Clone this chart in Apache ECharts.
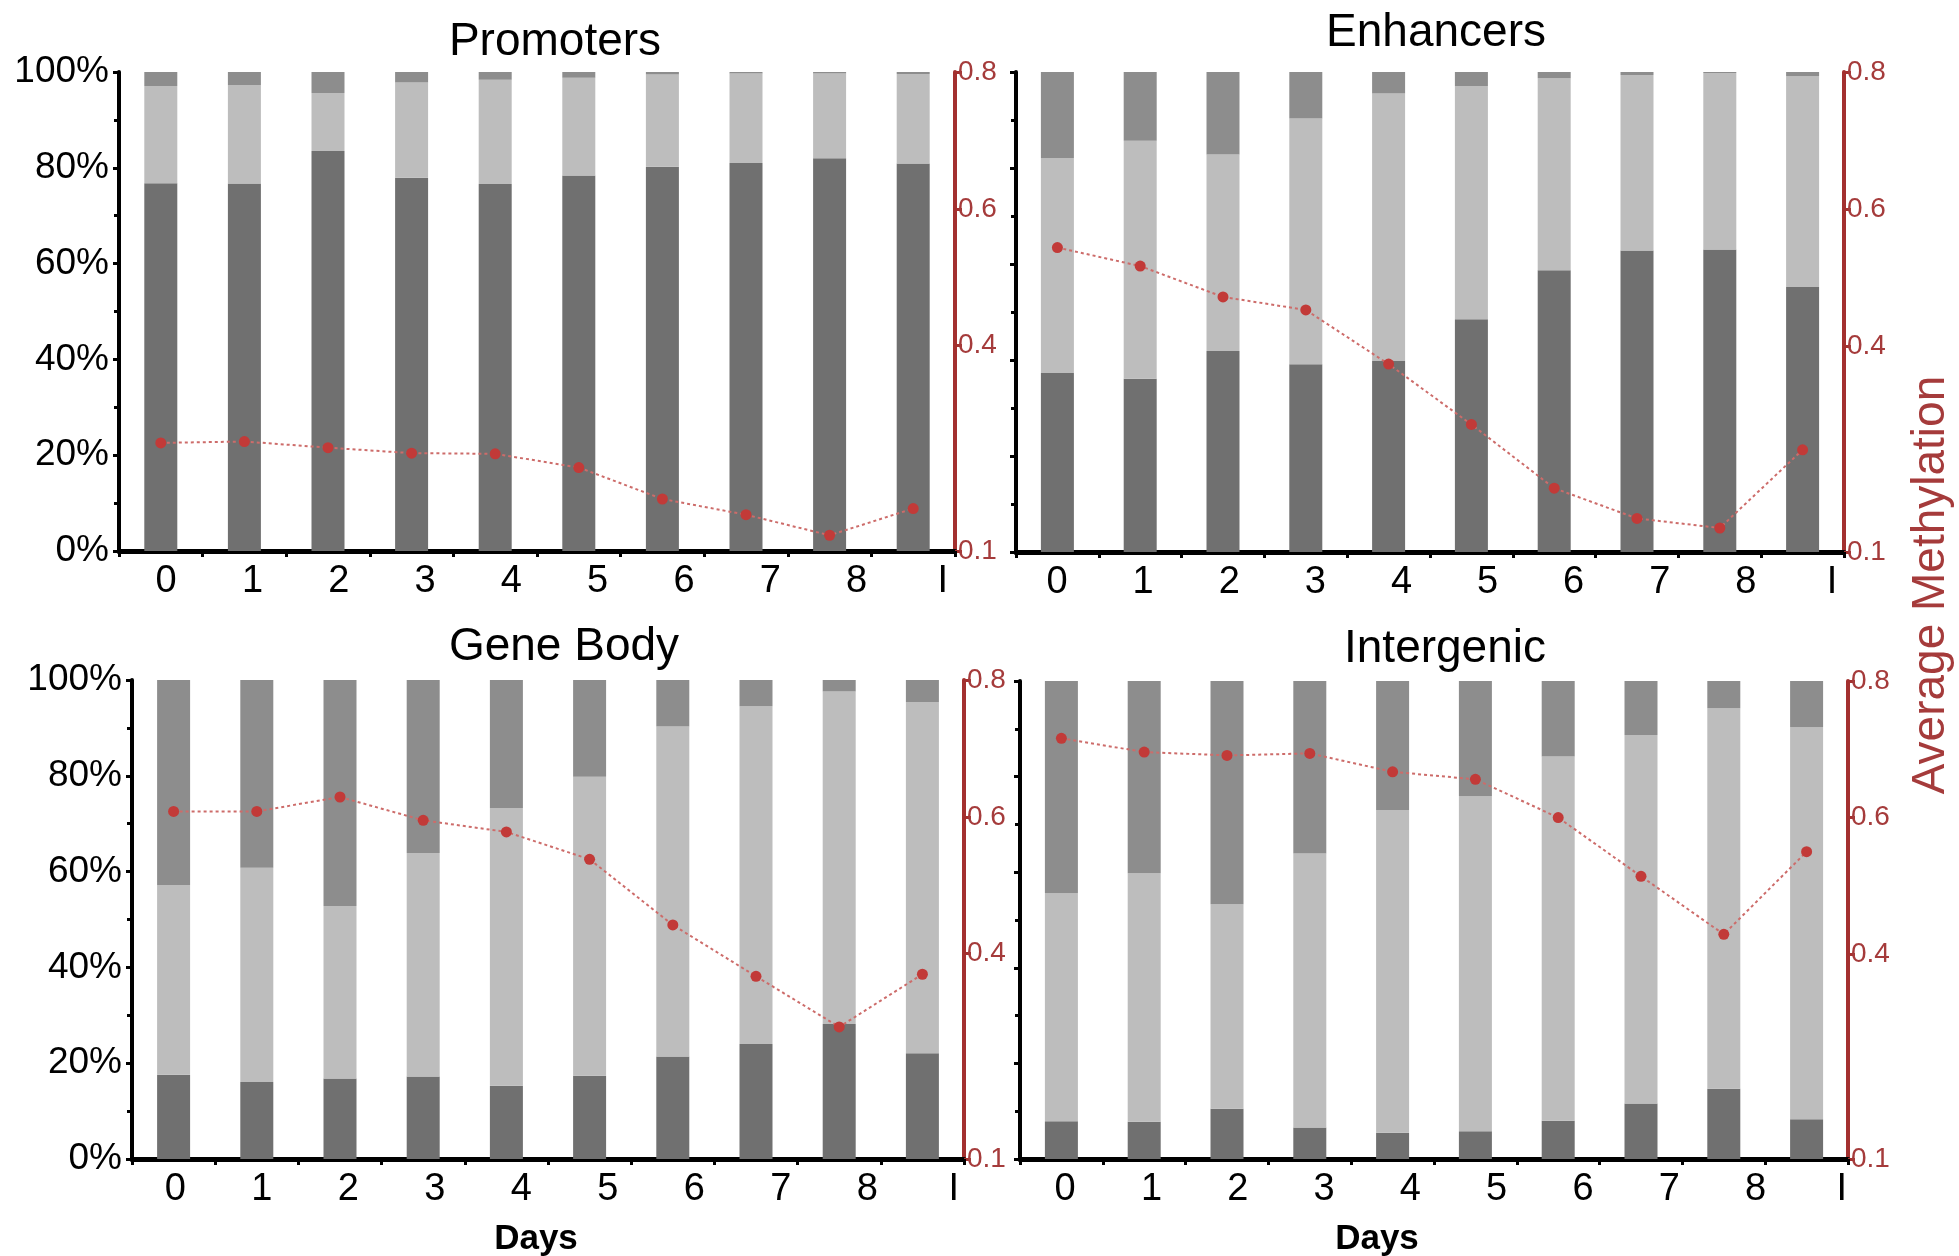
<!DOCTYPE html>
<html>
<head>
<meta charset="utf-8">
<script src="https://cdn.jsdelivr.net/npm/echarts@6/dist/echarts.min.js"></script>
<style>
  html, body { margin: 0; padding: 0; background: #fff; }
  #chart { width: 1959px; height: 1256px; }
</style>
</head>
<body>
<div id="chart"></div>
<script>
// Days of differentiation; "I" is the final time point
const days = ['0', '1', '2', '3', '4', '5', '6', '7', '8', 'I'];

// Axis tick values
const pctTicks = [0, 20, 40, 60, 80, 100];
const methTicks = [0.1, 0.4, 0.6, 0.8];

// Share of CpG sites (%) in low / intermediate / high methylation classes
const promotersLow  = [76.8, 76.7, 83.5, 77.9, 76.6, 78.4, 80.2, 81.0, 82.0, 80.9];
const promotersMid  = [20.3, 20.6, 12.1, 19.9, 21.8, 20.4, 19.3, 18.7, 17.7, 18.7];
const promotersHigh = [2.9, 2.7, 4.4, 2.2, 1.6, 1.2, 0.5, 0.3, 0.3, 0.4];
const promotersMeth = [0.258, 0.260, 0.251, 0.243, 0.242, 0.222, 0.176, 0.153, 0.123, 0.162];

const enhancersLow  = [37.3, 36.1, 41.9, 39.1, 39.8, 48.5, 58.7, 62.8, 63.0, 55.2];
const enhancersMid  = [44.8, 49.6, 40.9, 51.2, 55.7, 48.6, 40.0, 36.6, 36.8, 43.9];
const enhancersHigh = [17.9, 14.3, 17.2, 9.7, 4.5, 2.9, 1.3, 0.6, 0.2, 0.9];
const enhancersMeth = [0.544, 0.517, 0.472, 0.453, 0.374, 0.286, 0.193, 0.149, 0.135, 0.249];

const geneBodyLow  = [17.6, 16.1, 16.8, 17.2, 15.3, 17.4, 21.4, 24.0, 28.2, 22.1];
const geneBodyMid  = [39.6, 44.7, 36.0, 46.7, 58.0, 62.4, 68.9, 70.5, 69.4, 73.3];
const geneBodyHigh = [42.8, 39.2, 47.2, 36.1, 26.7, 20.2, 9.7, 5.5, 2.4, 4.6];
const geneBodyMeth = [0.608, 0.608, 0.629, 0.595, 0.578, 0.538, 0.442, 0.367, 0.293, 0.370];

const intergenicLow  = [7.9, 7.8, 10.5, 6.6, 5.5, 5.8, 8.0, 11.6, 14.7, 8.3];
const intergenicMid  = [47.7, 52.0, 42.8, 57.3, 67.5, 70.1, 76.2, 77.1, 79.6, 82.0];
const intergenicHigh = [44.4, 40.2, 46.7, 36.1, 27.0, 24.1, 15.8, 11.3, 5.7, 9.7];
const intergenicMeth = [0.716, 0.696, 0.691, 0.694, 0.667, 0.656, 0.600, 0.514, 0.429, 0.550];

const FONT = '"Liberation Sans", Arial, Helvetica, sans-serif';
const COLOR_LOW = '#707070';
const COLOR_MID = '#bdbdbd';
const COLOR_HIGH = '#8d8d8d';
const RED_AXIS = '#a3302f';
const RED_TEXT = '#a53b3b';

const panels = [
  { title: 'Promoters', low: promotersLow, mid: promotersMid, high: promotersHigh, meth: promotersMeth,
    grid: { left: 119, top: 72, width: 836, height: 479 }, labelBand: { left: 123, width: 863 },
    pctLabels: true, titleAt: [555, 42] },
  { title: 'Enhancers', low: enhancersLow, mid: enhancersMid, high: enhancersHigh, meth: enhancersMeth,
    grid: { left: 1016, top: 72, width: 828, height: 480 }, labelBand: { left: 1014, width: 861 },
    pctLabels: false, titleAt: [1436, 33] },
  { title: 'Gene Body', low: geneBodyLow, mid: geneBodyMid, high: geneBodyHigh, meth: geneBodyMeth,
    grid: { left: 132, top: 680, width: 832, height: 479 }, labelBand: { left: 132, width: 865 },
    pctLabels: true, titleAt: [564, 647] },
  { title: 'Intergenic', low: intergenicLow, mid: intergenicMid, high: intergenicHigh, meth: intergenicMeth,
    grid: { left: 1020, top: 681, width: 828, height: 478 }, labelBand: { left: 1022, width: 863 },
    pctLabels: false, titleAt: [1445, 649] }
];

const option = {
  animation: false,
  backgroundColor: '#ffffff',
  textStyle: { fontFamily: FONT },
  grid: [], xAxis: [], yAxis: [], series: [], graphic: []
};

panels.forEach((p, i) => {
  const g = option.grid.length;
  option.grid.push(Object.assign({}, p.grid));
  // band that carries the day labels under each panel
  option.grid.push({ left: p.labelBand.left, width: p.labelBand.width, top: p.grid.top, height: p.grid.height });

  const xi = option.xAxis.length;
  option.xAxis.push({
    gridIndex: g, type: 'category', data: days, boundaryGap: true,
    axisLine: { onZero: false, lineStyle: { color: '#000', width: 5 } },
    axisTick: { show: true, length: 6, lineStyle: { color: '#000', width: 3 } },
    axisLabel: { show: false }, splitLine: { show: false }
  });
  option.xAxis.push({
    gridIndex: g + 1, type: 'category', data: days, boundaryGap: true,
    axisLine: { show: false }, axisTick: { show: false }, splitLine: { show: false },
    axisLabel: { fontSize: 38, color: '#000', margin: 12, fontFamily: FONT }
  });

  const yi = option.yAxis.length;
  option.yAxis.push({
    gridIndex: g, type: 'value', min: 0, max: 100, interval: 20,
    axisLine: { show: true, lineStyle: { color: '#000', width: 4 } },
    axisTick: { show: true, length: 6, lineStyle: { color: '#000', width: 3 } },
    minorTick: { show: true, splitNumber: 2, length: 5, lineStyle: { color: '#000', width: 3 } },
    splitLine: { show: false },
    axisLabel: {
      show: p.pctLabels, fontSize: 37, color: '#000', margin: 10, fontFamily: FONT,
      customValues: pctTicks, formatter: v => v + '%'
    }
  });
  option.yAxis.push({
    gridIndex: g, type: 'value', position: 'right', min: 0.1, max: 0.8,
    axisLine: { show: true, lineStyle: { color: RED_AXIS, width: 4 } },
    axisTick: { show: true, customValues: methTicks, length: 7, lineStyle: { color: RED_AXIS, width: 3 } },
    splitLine: { show: false },
    axisLabel: {
      customValues: methTicks, formatter: v => v.toFixed(1),
      fontSize: 28, color: RED_TEXT, margin: 3, padding: [0, 0, 10, 0], fontFamily: FONT
    }
  });
  option.yAxis.push({ gridIndex: g + 1, type: 'value', show: false });

  const stackName = 'sites' + i;
  [[p.low, COLOR_LOW, 'Low'], [p.mid, COLOR_MID, 'Intermediate'], [p.high, COLOR_HIGH, 'High']]
    .forEach(([data, color, name]) => {
      option.series.push({
        name: name, type: 'bar', stack: stackName, xAxisIndex: xi, yAxisIndex: yi,
        data: data, barWidth: 33, itemStyle: { color: color }, silent: true
      });
    });
  option.series.push({
    name: 'Average Methylation', type: 'line', xAxisIndex: xi, yAxisIndex: yi + 1,
    data: p.meth, symbol: 'circle', symbolSize: 11, z: 5,
    itemStyle: { color: '#c23a38' },
    lineStyle: { color: '#cd6c6a', width: 2, type: [3, 3] }
  });

  option.graphic.push({
    type: 'text', x: p.titleAt[0], y: p.titleAt[1],
    style: { text: p.title, font: '46px ' + FONT, fill: '#000', align: 'center', verticalAlign: 'middle' }
  });
});

// x-axis names under the lower panels
[[536, 1239], [1377, 1239]].forEach(([x, y]) => {
  option.graphic.push({
    type: 'text', x: x, y: y,
    style: { text: 'Days', font: 'bold 35px ' + FONT, fill: '#000', align: 'center', verticalAlign: 'middle' }
  });
});

// shared right-hand axis name
option.graphic.push({
  type: 'text', x: 1931, y: 585, rotation: Math.PI / 2,
  style: { text: 'Average Methylation', font: '46px ' + FONT, fill: RED_TEXT, align: 'center', verticalAlign: 'middle' }
});

const chart = echarts.init(document.getElementById('chart'), null, { renderer: 'canvas' });
chart.setOption(option);
</script>
</body>
</html>
